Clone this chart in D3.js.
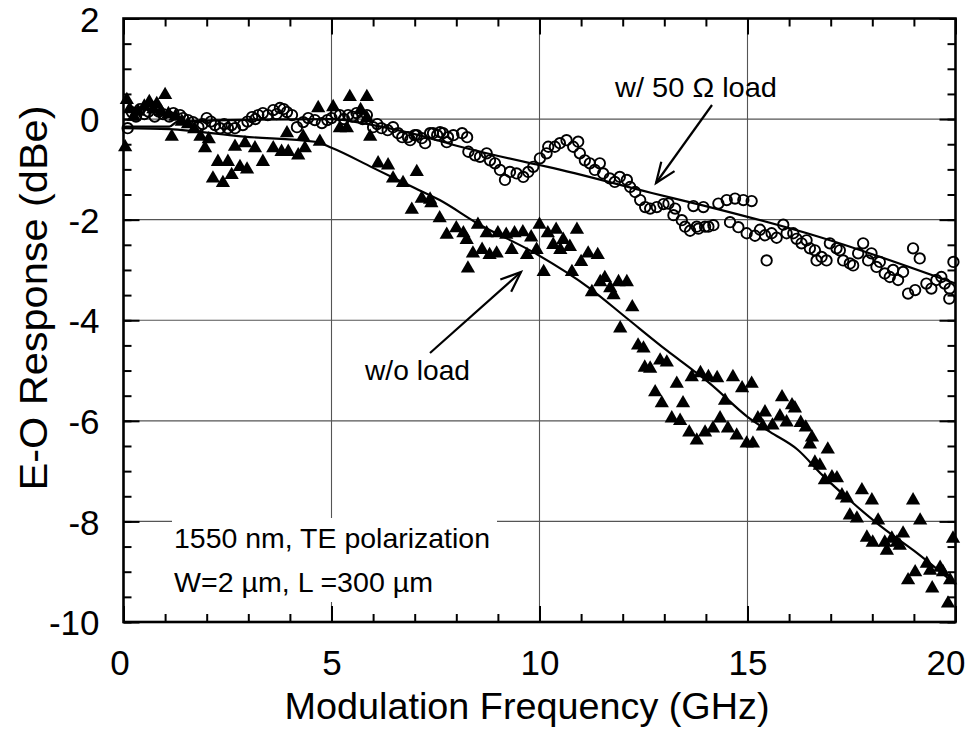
<!DOCTYPE html>
<html>
<head>
<meta charset="utf-8">
<script src="https://cdn.jsdelivr.net/npm/d3@7"></script>
<style>
  html, body { margin: 0; padding: 0; background: #fff; }
  svg text { font-family: "Liberation Sans", Arial, Helvetica, sans-serif; fill: #000; }
</style>
</head>
<body>
<svg id="chart" width="972" height="730"></svg>
<script>
// ---- data ----
const noLoadX = [0.04,0.08,0.15,0.25,0.35,0.5,0.62,0.72,0.8,0.9,1.0,1.08,1.16,1.25,1.4,1.55,1.7,1.85,1.96,2.05,2.15,2.27,2.39,2.51,2.6,2.68,2.8,2.92,2.97,3.16,3.35,3.6,3.8,3.93,3.96,4.2,4.32,4.36,4.68,4.72,5.04,5.2,5.37,5.44,5.7,5.85,5.85,5.93,6.12,6.36,6.48,6.72,6.93,7.05,7.17,7.37,7.4,7.6,7.77,8.0,8.17,8.25,8.28,8.4,8.52,8.62,8.73,8.8,8.97,9.0,9.2,9.33,9.4,9.6,9.7,9.8,9.93,10.0,10.1,10.2,10.33,10.4,10.5,10.57,10.73,10.78,10.9,11.0,11.17,11.26,11.4,11.46,11.57,11.7,11.78,11.9,11.94,12.1,12.23,12.37,12.5,12.53,12.66,12.9,13.06,12.78,13.3,12.94,13.45,13.18,13.38,13.6,13.78,13.66,13.87,14.06,14.27,13.98,14.17,14.34,14.46,14.53,14.65,14.74,14.87,14.98,15.1,15.13,15.25,15.37,15.42,15.6,15.78,15.83,15.94,16.07,16.14,16.28,16.4,16.5,16.55,16.62,16.74,16.86,16.93,17.03,17.15,17.27,17.39,17.46,17.63,17.75,17.87,17.99,18.01,18.14,18.3,18.35,18.47,18.59,18.66,18.74,18.86,18.98,19.03,19.15,19.31,19.39,19.44,19.63,19.7,19.82,19.87,19.94];
const noLoadY = [-0.56,0.38,0.2,0.05,0.15,0.25,0.34,0.2,0.3,0.15,0.48,0.1,-0.35,0.05,-0.05,-0.1,-0.2,-0.35,-0.58,-0.4,-1.18,-0.85,-1.27,-0.85,-1.11,-0.55,-0.95,-0.48,-1.0,-0.58,-0.85,-0.58,-0.65,-0.28,-0.65,-0.72,-0.35,-0.58,0.22,-0.45,0.24,-0.18,-0.18,0.44,0.18,0.44,0.02,-0.35,-0.88,-0.92,-1.18,-1.27,-1.8,-1.05,-1.58,-1.6,-1.67,-1.97,-2.3,-2.17,-2.27,-2.4,-2.97,-2.67,-2.1,-2.6,-2.27,-2.7,-2.67,-2.27,-2.3,-2.6,-2.27,-2.25,-2.7,-2.35,-2.6,-2.1,-3.04,-2.27,-2.5,-2.2,-2.6,-2.4,-2.54,-3.04,-2.2,-2.84,-2.67,-3.44,-2.7,-3.24,-3.16,-3.36,-3.5,-3.24,-4.16,-3.24,-3.74,-4.5,-4.56,-4.94,-4.96,-4.8,-4.84,-5.43,-5.26,-5.65,-5.65,-5.95,-6.0,-6.23,-6.39,-5.13,-5.05,-5.13,-5.15,-6.23,-6.15,-5.95,-5.6,-6.15,-5.13,-6.29,-5.35,-6.45,-5.26,-6.45,-5.95,-6.11,-5.83,-6.09,-5.91,-5.53,-6.03,-5.69,-5.75,-6.04,-6.13,-6.47,-6.33,-6.83,-6.89,-7.18,-6.57,-7.12,-7.14,-7.48,-7.54,-7.88,-7.94,-7.38,-8.32,-7.58,-8.42,-7.98,-8.42,-8.58,-8.34,-8.42,-8.48,-8.24,-9.17,-7.58,-9.01,-7.98,-8.84,-8.98,-9.33,-8.92,-9.01,-9.63,-9.17,-8.34];

const loadX = [0.1,0.2,0.3,0.4,0.5,0.6,0.75,0.85,0.95,1.1,1.2,1.36,1.43,1.55,1.67,1.8,1.9,2.0,2.1,2.2,2.32,2.42,2.51,2.6,2.68,2.87,2.98,3.09,3.17,3.24,3.35,3.47,3.6,3.68,3.76,3.85,3.93,4.05,4.17,4.32,4.44,4.6,4.77,4.9,5.0,5.1,5.2,5.3,5.4,5.5,5.6,5.75,5.85,6.0,6.1,6.2,6.35,6.48,6.6,6.7,6.84,6.89,7.0,7.05,7.17,7.25,7.37,7.44,7.54,7.61,7.68,7.77,7.8,7.93,8.14,8.26,8.29,8.45,8.57,8.73,8.81,8.93,9.05,9.17,9.29,9.45,9.61,9.73,9.85,10.01,10.17,10.21,10.37,10.49,10.65,10.81,10.93,10.97,11.09,11.21,11.33,11.45,11.53,11.69,11.81,11.93,12.1,12.18,12.3,12.42,12.54,12.66,12.82,12.98,13.1,13.22,13.26,13.42,13.5,13.62,13.7,13.78,13.82,13.94,13.98,14.06,14.18,14.3,14.5,14.58,14.7,14.78,14.9,14.98,15.1,15.18,15.3,15.42,15.46,15.58,15.7,15.86,15.94,16.1,16.18,16.3,16.42,16.5,16.62,16.66,16.78,16.9,16.98,17.14,17.22,17.3,17.46,17.54,17.66,17.78,17.9,17.98,18.1,18.18,18.3,18.42,18.5,18.62,18.74,18.86,18.98,19.03,19.14,19.3,19.42,19.54,19.66,19.74,19.85,19.86,19.95];
const loadY = [-0.18,0.14,0.05,0.2,0.1,0.15,0.05,0.15,0.1,0.05,0.12,0.08,0.02,-0.02,-0.06,-0.16,-0.1,0.02,-0.05,-0.12,-0.18,-0.1,-0.18,-0.12,-0.18,-0.12,-0.05,0.04,0.0,0.08,0.12,0.08,0.18,0.1,0.22,0.2,0.14,0.08,-0.16,-0.06,0.02,-0.02,-0.08,-0.02,0.02,0.1,0.08,0.0,0.08,0.05,0.12,0.0,0.08,-0.16,-0.1,-0.18,-0.22,-0.16,-0.28,-0.36,-0.36,-0.42,-0.32,-0.32,-0.38,-0.48,-0.28,-0.28,-0.32,-0.26,-0.28,-0.46,-0.36,-0.32,-0.28,-0.36,-0.65,-0.72,-0.75,-0.68,-0.82,-0.88,-1.01,-1.21,-1.05,-1.08,-1.15,-1.05,-0.95,-0.78,-0.68,-0.55,-0.55,-0.48,-0.42,-0.55,-0.45,-0.68,-0.82,-0.88,-1.01,-0.88,-1.08,-1.18,-1.25,-1.15,-1.21,-1.35,-1.45,-1.61,-1.75,-1.78,-1.75,-1.69,-1.68,-1.91,-1.78,-2.01,-2.14,-2.22,-1.73,-2.14,-2.18,-1.75,-2.14,-2.14,-2.11,-1.68,-1.61,-2.05,-1.58,-2.15,-1.61,-2.27,-1.63,-2.32,-2.2,-2.31,-2.81,-2.27,-2.36,-2.1,-2.27,-2.27,-2.38,-2.47,-2.41,-2.57,-2.61,-2.81,-2.74,-2.81,-2.47,-2.57,-2.61,-2.81,-2.87,-2.91,-2.67,-2.47,-2.81,-2.67,-2.94,-2.84,-3.07,-3.14,-3.0,-3.2,-3.04,-3.47,-2.57,-3.4,-2.77,-3.27,-3.37,-3.2,-3.14,-3.27,-3.57,-3.37,-2.84];

const fitNoLoadX = [0,1.1,2.9,4.6,5,6,7,7.6,8.5,9.9,11.2,12.1,13.06,13.7,14.1,15,15.54,16.2,16.8,17.46,18.27,19,20];
const fitNoLoadY = [-0.18,-0.2,-0.35,-0.45,-0.57,-0.97,-1.37,-1.61,-2.07,-2.67,-3.36,-3.96,-4.6,-5.0,-5.26,-5.92,-6.22,-6.57,-7.08,-7.58,-8.14,-8.58,-9.25];
const fitLoadX = [0,1.1,1.3,5,6,7,8.1,9.8,10.2,12.7,13.9,16.75,20];
const fitLoadY = [-0.15,-0.15,-0.05,0.0,-0.12,-0.3,-0.55,-0.88,-0.95,-1.47,-1.71,-2.35,-3.27];

const xMajorTicks = [0,5,10,15,20];
const yMajorTicks = [2,0,-2,-4,-6,-8,-10];
const xTitle = "Modulation Frequency (GHz)";
const yTitle = "E-O Response (dBe)";
const labelLoad = "w/ 50 \u03A9 load";
const labelNoLoad = "w/o load";
const noteLines = ["1550 nm, TE polarization", "W=2 \u00B5m, L =300 \u00B5m"];

// ---- layout ----
const svg = d3.select("#chart");
const L = 123.5, R = 955.5, T = 18.5, B = 622;
const x = d3.scaleLinear().domain([0, 20]).range([L, R]);
const y = d3.scaleLinear().domain([-10, 2]).range([B, T]);

// grid lines
const grid = svg.append("g").attr("stroke", "#555").attr("stroke-width", 1.1);
grid.selectAll("line.v").data([5,10,15]).join("line")
  .attr("x1", d => x(d)).attr("x2", d => x(d)).attr("y1", T).attr("y2", B);
grid.selectAll("line.h").data([0,-2,-4,-6,-8]).join("line")
  .attr("x1", L).attr("x2", R).attr("y1", d => y(d)).attr("y2", d => y(d));

// white box for note
svg.append("rect").attr("x", 172).attr("y", 518).attr("width", 325).attr("height", 84).attr("fill", "#fff");

// axes ticks (inward)
const tickStyle = g => { g.select(".domain").remove(); g.selectAll(".tick line").attr("stroke", "#000").attr("stroke-width", 2); };
svg.append("g").attr("transform", `translate(0,${B})`)
  .call(d3.axisBottom(x).tickValues(d3.range(0, 21, 1)).tickSize(-8).tickFormat(""))
  .call(tickStyle);
svg.append("g").attr("transform", `translate(0,${T})`)
  .call(d3.axisTop(x).tickValues(d3.range(0, 21, 1)).tickSize(-8).tickFormat(""))
  .call(tickStyle);
svg.append("g").attr("transform", `translate(${L},0)`)
  .call(d3.axisLeft(y).tickValues(d3.range(-10, 2.01, 0.5)).tickSize(-8).tickFormat(""))
  .call(tickStyle);
svg.append("g").attr("transform", `translate(${R},0)`)
  .call(d3.axisRight(y).tickValues(d3.range(-10, 2.01, 0.5)).tickSize(-8).tickFormat(""))
  .call(tickStyle);
svg.append("g").attr("transform", `translate(${L},0)`)
  .call(d3.axisLeft(y).tickValues(yMajorTicks).tickSize(-16).tickPadding(24).tickFormat(d3.format("d")))
  .call(tickStyle)
  .call(g => g.selectAll("text").attr("font-size", 35).attr("dy", "0.36em")
    .attr("font-family", "Liberation Sans, Arial, sans-serif").text(d => d < 0 ? "-" + Math.abs(d) : d));
svg.append("g").attr("transform", `translate(${R},0)`)
  .call(d3.axisRight(y).tickValues(yMajorTicks).tickSize(-16).tickFormat(""))
  .call(tickStyle);
svg.append("g").attr("transform", `translate(0,${B})`)
  .call(d3.axisBottom(x).tickValues(xMajorTicks).tickSize(-16).tickPadding(28))
  .call(tickStyle)
  .call(g => g.selectAll("text").attr("font-size", 35).attr("font-family", "Liberation Sans, Arial, sans-serif")
    .attr("dx", d => d === 20 ? -10 : (d === 0 ? -4 : 0)));
svg.append("g").attr("transform", `translate(0,${T})`)
  .call(d3.axisTop(x).tickValues(xMajorTicks).tickSize(-16).tickFormat(""))
  .call(tickStyle);

// fit lines
const line = d3.line().x(d => x(d[0])).y(d => y(d[1])).curve(d3.curveMonotoneX);
svg.append("path").datum(d3.zip(fitNoLoadX, fitNoLoadY)).attr("d", line)
  .attr("fill", "none").attr("stroke", "#000").attr("stroke-width", 2.2);
svg.append("path").datum(d3.zip(fitLoadX, fitLoadY)).attr("d", line)
  .attr("fill", "none").attr("stroke", "#000").attr("stroke-width", 2.2);

// markers
svg.append("g").selectAll("circle").data(d3.zip(loadX, loadY)).join("circle")
  .attr("cx", d => x(d[0])).attr("cy", d => y(d[1])).attr("r", 5.2)
  .attr("fill", "none").attr("stroke", "#000").attr("stroke-width", 1.9);
const tri = d3.symbol().type(d3.symbolTriangle).size(88);
svg.append("g").selectAll("path").data(d3.zip(noLoadX, noLoadY)).join("path")
  .attr("d", tri).attr("transform", d => `translate(${x(d[0])},${y(d[1])})`)
  .attr("fill", "#000");

// frame
svg.append("rect").attr("x", L).attr("y", T).attr("width", R - L).attr("height", B - T)
  .attr("fill", "none").attr("stroke", "#000").attr("stroke-width", 2.6);

// axis titles
svg.append("text").attr("x", 527).attr("y", 719).attr("text-anchor", "middle")
  .attr("font-size", 37).attr("textLength", 485).attr("lengthAdjust", "spacingAndGlyphs").text(xTitle);
svg.append("text").attr("transform", "translate(47,298) rotate(-90)").attr("text-anchor", "middle")
  .attr("font-size", 38).attr("textLength", 385).attr("lengthAdjust", "spacingAndGlyphs").text(yTitle);

// annotations
svg.append("text").attr("x", 615).attr("y", 97).attr("font-size", 28)
  .attr("textLength", 162).attr("lengthAdjust", "spacingAndGlyphs").text(labelLoad);
svg.append("text").attr("x", 365).attr("y", 380).attr("font-size", 28)
  .attr("textLength", 105).attr("lengthAdjust", "spacingAndGlyphs").text(labelNoLoad);
svg.selectAll("text.note").data(noteLines).join("text").attr("class", "note")
  .attr("x", 174).attr("y", (d, i) => 548 + i * 44).attr("font-size", 28)
  .attr("textLength", (d, i) => i === 0 ? 316 : 259).attr("lengthAdjust", "spacingAndGlyphs").text(d => d);

// arrows (open V heads)
function arrow(x1, y1, x2, y2) {
  const g = svg.append("g").attr("stroke", "#000").attr("stroke-width", 2.2).attr("fill", "none");
  g.append("line").attr("x1", x1).attr("y1", y1).attr("x2", x2).attr("y2", y2);
  const a = Math.atan2(y2 - y1, x2 - x1), len = 22, sp = 0.38;
  g.append("path").attr("d", `M${x2 - len * Math.cos(a - sp)},${y2 - len * Math.sin(a - sp)} L${x2},${y2} L${x2 - len * Math.cos(a + sp)},${y2 - len * Math.sin(a + sp)}`);
}
arrow(712, 105, 656, 183);
arrow(430, 353, 521, 272);
</script>
</body>
</html>
